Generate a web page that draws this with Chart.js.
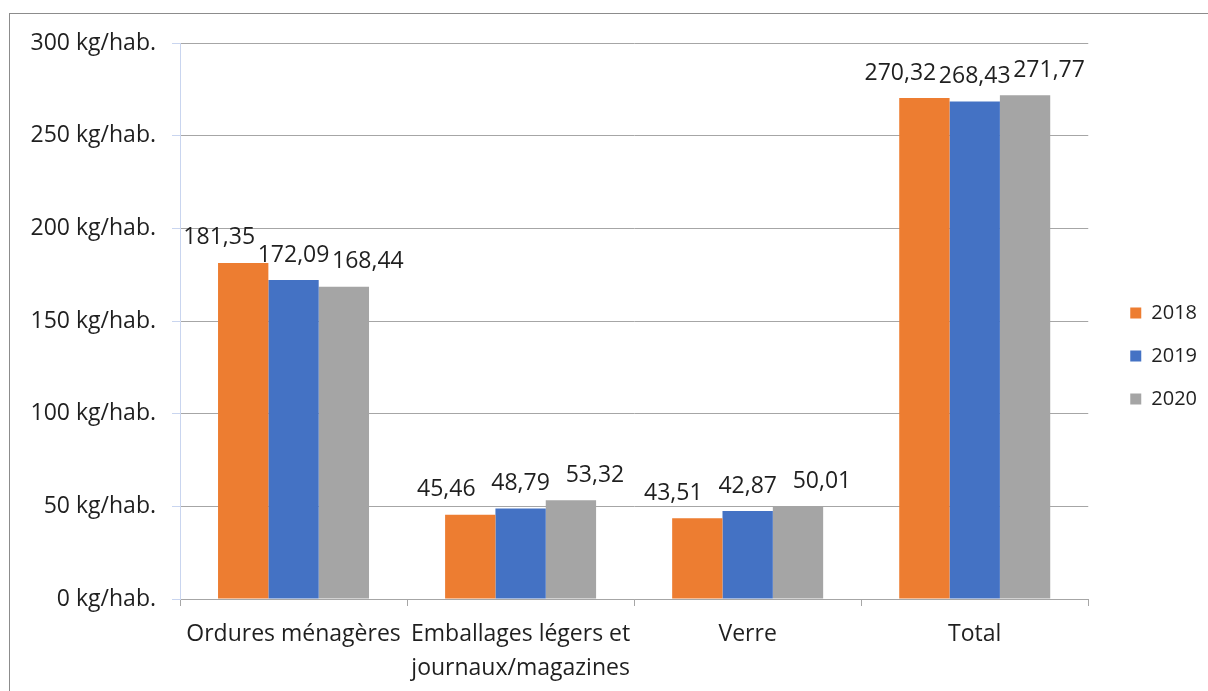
<!DOCTYPE html>
<html>
<head>
<meta charset="utf-8">
<script src="https://cdn.jsdelivr.net/npm/chart.js@4.4.1/dist/chart.umd.min.js"></script>
<style>
  body { margin: 0; background: #fff; }
  #wrap { width: 1208px; height: 691px; position: relative; }
</style>
</head>
<body>
<div id="wrap"><canvas id="barDechets"></canvas></div>
<script>
// données (kg/hab.)
const categories = ['Ordures ménagères', ['Emballages légers et', 'journaux/magazines'], 'Verre', 'Total'];
const annees = ['2018', '2019', '2020'];
const valeurs2018 = [181.35, 45.46, 43.51, 270.32];
const valeurs2019 = [172.09, 48.79, 47.5, 268.43];
const valeurs2020 = [168.44, 53.32, 50.01, 271.77];
// étiquettes affichées au-dessus des barres
const etiquettes2018 = ['181,35', '45,46', '43,51', '270,32'];
const etiquettes2019 = ['172,09', '48,79', '42,87', '268,43'];
const etiquettes2020 = ['168,44', '53,32', '50,01', '271,77'];
const ticksY = [0, 50, 100, 150, 200, 250, 300];

const police = "'Open Sans', 'Noto Sans', sans-serif";
const couleurTexte = '#1f1f1f';

// cadre gris autour du graphique
const cadre = {
    id: 'cadre',
    beforeDraw(chart) {
        const ctx = chart.ctx;
        ctx.save();
        ctx.strokeStyle = '#8c8c8c';
        ctx.lineWidth = 1;
        ctx.strokeRect(9.5, 13.5, 1400, 1000);
        ctx.restore();
    }
};

// décale la légende comme sur l'original
const decaleLegende = {
    id: 'decaleLegende',
    afterLayout(chart) {
        const l = chart.legend;
        if (!l) return;
        l.left += 19; l.right += 19;
        l.top -= 11; l.bottom -= 11;
    }
};

// étiquettes de données (décalage horizontal par série, comme dans l'original)
const etiquettes = {
    id: 'etiquettes',
    afterDatasetsDraw(chart) {
        const ctx = chart.ctx;
        ctx.save();
        ctx.font = '23px ' + police;
        ctx.fillStyle = couleurTexte;
        ctx.textAlign = 'center';
        ctx.textBaseline = 'middle';
        chart.data.datasets.forEach((ds, i) => {
            chart.getDatasetMeta(i).data.forEach((bar, j) => {
                ctx.fillText(ds.etiquettes[j], bar.x + ds.decalageEtiquette, bar.y - 25);
            });
        });
        ctx.restore();
    }
};

const dadosDechets = {
    labels: categories,
    datasets: [{
        label: annees[0],
        data: valeurs2018,
        etiquettes: etiquettes2018,
        decalageEtiquette: -24,
        backgroundColor: '#ED7D31',
        borderWidth: 0
    }, {
        label: annees[1],
        data: valeurs2019,
        etiquettes: etiquettes2019,
        decalageEtiquette: 0,
        backgroundColor: '#4472C4',
        borderWidth: 0
    }, {
        label: annees[2],
        data: valeurs2020,
        etiquettes: etiquettes2020,
        decalageEtiquette: 24,
        backgroundColor: '#A5A5A5',
        borderWidth: 0
    }]
};

const configDechets = {
    type: 'bar',
    data: dadosDechets,
    options: {
        responsive: true,
        maintainAspectRatio: false,
        animation: false,
        categoryPercentage: 0.665,
        barPercentage: 1,
        layout: {
            padding: { top: 43, right: 20, bottom: 0, left: 0 }
        },
        scales: {
            x: {
                afterFit(scale) { scale.height = 92; },
                grid: {
                    drawOnChartArea: false,
                    color: '#a6a6a6',
                    tickLength: 7
                },
                border: { color: '#a6a6a6' },
                ticks: {
                    color: couleurTexte,
                    padding: 12,
                    maxRotation: 0,
                    autoSkip: false,
                    font: { size: 23, family: police, lineHeight: 1.45 }
                }
            },
            y: {
                min: 0,
                max: 300,
                afterFit(scale) { scale.width = 180; },
                afterBuildTicks(scale) { scale.ticks = ticksY.map(v => ({ value: v })); },
                grid: {
                    color: '#a6a6a6',
                    tickColor: '#c9d5ef',
                    tickLength: 8
                },
                border: { color: '#c9d5ef' },
                ticks: {
                    color: couleurTexte,
                    padding: 16,
                    font: { size: 23, family: police },
                    callback: v => v + ' kg/hab.'
                }
            }
        },
        plugins: {
            legend: {
                position: 'right',
                labels: {
                    color: couleurTexte,
                    boxWidth: 11,
                    boxHeight: 11,
                    padding: 23,
                    font: { size: 20, family: police }
                }
            },
            tooltip: { enabled: false }
        }
    },
    plugins: [cadre, decaleLegende, etiquettes]
};

new Chart(document.getElementById('barDechets').getContext('2d'), configDechets);
</script>
</body>
</html>
